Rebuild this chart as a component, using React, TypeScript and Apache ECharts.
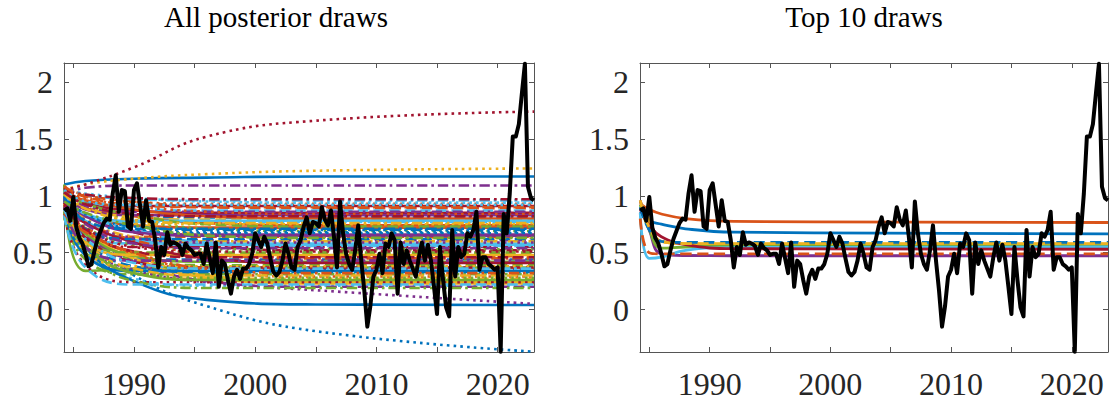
import React, { useEffect, useRef } from "react";
import * as echarts from "echarts";

// ---------- data ----------
const START_YEAR = 1984.25; // first quarter of the observed series
const QUARTER = 0.25;

// observed series (black line), quarterly 1984.25 .. 2023.0
const OBSERVED: number[] = [
  0.87, 0.89, 0.78,
  0.99, 0.72, 0.63, 0.58, // 1985
  0.49, 0.38, 0.40, 0.52, // 1986
  0.62, 0.69, 0.76, 0.80, // 1987
  0.79, 1.02, 1.18, 0.86, // 1988
  1.05, 1.04, 0.73, 0.71, // 1989
  1.05, 1.11, 0.92, 0.73, // 1990
  0.96, 0.78, 0.77, 0.61, // 1991
  0.37, 0.55, 0.48, 0.68, // 1992
  0.57, 0.59, 0.58, 0.56, // 1993
  0.48, 0.58, 0.54, 0.52, // 1994
  0.48, 0.49, 0.49, 0.40, // 1995
  0.58, 0.45, 0.32, 0.59, // 1996
  0.20, 0.43, 0.40, 0.26, // 1997
  0.14, 0.29, 0.35, 0.27, // 1998
  0.36, 0.36, 0.40, 0.49, // 1999
  0.67, 0.61, 0.55, 0.64, // 2000
  0.58, 0.45, 0.33, 0.30, // 2001
  0.33, 0.43, 0.58, 0.49, // 2002
  0.37, 0.35, 0.55, 0.61, // 2003
  0.73, 0.81, 0.67, 0.77, // 2004
  0.76, 0.73, 0.90, 0.79, // 2005
  0.74, 0.87, 0.64, 0.37, // 2006
  0.95, 0.67, 0.49, 0.40, // 2007
  0.35, 0.52, 0.74, 0.43, // 2008
  0.17, -0.15, 0.03, 0.29, // 2009
  0.35, 0.49, 0.32, 0.58, // 2010
  0.55, 0.67, 0.61, 0.14, // 2011
  0.59, 0.40, 0.52, 0.43, // 2012
  0.36, 0.29, 0.46, 0.59, // 2013
  0.43, 0.57, 0.43, 0.20, // 2014
  -0.04, 0.55, 0.26, 0.02, // 2015
  -0.06, 0.70, 0.29, 0.55, // 2016
  0.46, 0.49, 0.67, 0.64, // 2017
  0.70, 0.86, 0.35, 0.46, // 2018
  0.46, 0.40, 0.38, 0.35, // 2019
  0.37, -0.37, 0.84, 0.67, // 2020
  1.02, 1.52, 1.52, 1.63, // 2021
  1.90, 2.16, 1.08, 0.98, // 2022
  0.96, // 2023
];

// posterior draws (left panel): value at each key year
const KEY_YEARS_ALL = [1984.25, 1986, 1990, 1996, 2005, 2023];
const ALL_DRAWS: number[][] = [
  [1.10, 1.13, 1.15, 1.16, 1.17, 1.17],
  [0.95, 0.835, 0.74, 0.72, 0.72, 0.72],
  [0.90, 0.70, 0.48, 0.30, 0.25, 0.25],
  [1.00, 0.83, 0.69, 0.66, 0.66, 0.66],
  [1.10, 0.34, 0.36, 0.37, 0.37, 0.37],
  [0.92, 0.665, 0.58, 0.58, 0.58, 0.58],
  [1.02, 0.935, 0.87, 0.85, 0.85, 0.85],
  [0.85, 0.54, 0.44, 0.44, 0.44, 0.44],
  [1.05, 1.00, 0.95, 0.90, 0.89, 0.89],
  [0.80, 0.535, 0.32, 0.27, 0.27, 0.27],
  [0.95, 0.695, 0.61, 0.61, 0.61, 0.61],
  [0.88, 0.635, 0.44, 0.39, 0.39, 0.39],
  [1.00, 0.83, 0.77, 0.77, 0.77, 0.77],
  [0.98, 0.84, 0.68, 0.56, 0.52, 0.52],
  [1.00, 0.62, 0.30, 0.03, -0.19, -0.37],
  [1.08, 1.005, 0.945, 0.93, 0.93, 0.93],
  [1.05, 1.10, 1.15, 1.19, 1.22, 1.24],
  [0.86, 0.48, 0.35, 0.35, 0.35, 0.35],
  [0.97, 0.89, 0.79, 0.71, 0.69, 0.69],
  [0.84, 0.525, 0.27, 0.21, 0.21, 0.21],
  [1.05, 1.10, 1.25, 1.52, 1.66, 1.74],
  [1.04, 0.925, 0.83, 0.81, 0.81, 0.81],
  [0.90, 0.685, 0.51, 0.47, 0.47, 0.47],
  [1.00, 0.89, 0.76, 0.66, 0.63, 0.63],
  [1.02, 1.07, 1.09, 1.09, 1.09, 1.09],
  [0.82, 0.44, 0.31, 0.31, 0.31, 0.31],
  [1.06, 1.01, 0.97, 0.96, 0.96, 0.96],
  [0.93, 0.645, 0.55, 0.55, 0.55, 0.55],
  [1.00, 0.55, 0.25, 0.085, 0.045, 0.04],
  [0.96, 0.89, 0.82, 0.76, 0.74, 0.74],
  [0.87, 0.68, 0.45, 0.28, 0.23, 0.23],
  [1.03, 0.88, 0.83, 0.83, 0.83, 0.83],
  [0.91, 0.665, 0.47, 0.42, 0.42, 0.42],
  [0.99, 0.78, 0.61, 0.57, 0.57, 0.57],
  [1.07, 0.95, 0.91, 0.91, 0.91, 0.91],
  [0.85, 0.59, 0.38, 0.33, 0.33, 0.33],
  [0.94, 0.715, 0.64, 0.64, 0.64, 0.64],
  [1.01, 0.90, 0.81, 0.79, 0.79, 0.79],
  [0.83, 0.64, 0.42, 0.25, 0.20, 0.20],
  [0.96, 0.615, 0.50, 0.50, 0.50, 0.50],
  [1.04, 0.955, 0.89, 0.87, 0.87, 0.87],
  [0.89, 0.63, 0.42, 0.37, 0.37, 0.37],
  [0.97, 0.82, 0.70, 0.67, 0.67, 0.67],
  [0.86, 0.69, 0.49, 0.34, 0.29, 0.29],
  [1.02, 0.82, 0.75, 0.75, 0.75, 0.75],
  [0.95, 0.55, 0.35, 0.24, 0.17, 0.05],
  [0.92, 0.725, 0.57, 0.53, 0.53, 0.53],
  [1.05, 1.02, 0.98, 0.95, 0.94, 0.94],
  [0.84, 0.39, 0.24, 0.24, 0.24, 0.24],
  [0.98, 0.84, 0.73, 0.70, 0.70, 0.70],
  [0.90, 0.765, 0.61, 0.49, 0.45, 0.45],
  [1.00, 0.80, 0.64, 0.60, 0.60, 0.60],
  [1.06, 0.91, 0.86, 0.86, 0.86, 0.86],
  [0.81, 0.50, 0.25, 0.19, 0.19, 0.19],
  [0.95, 0.83, 0.70, 0.59, 0.56, 0.56],
  [1.05, 1.01, 0.98, 0.97, 0.97, 0.97],
  [0.88, 0.475, 0.34, 0.34, 0.34, 0.34],
  [1.03, 0.96, 0.88, 0.82, 0.80, 0.80],
  [0.93, 0.59, 0.48, 0.48, 0.48, 0.48],
  [0.99, 0.82, 0.68, 0.65, 0.65, 0.65],
  [0.85, 0.555, 0.32, 0.26, 0.26, 0.26],
  [1.01, 0.84, 0.78, 0.78, 0.78, 0.78],
  [0.91, 0.76, 0.59, 0.45, 0.41, 0.41],
  [0.97, 0.71, 0.62, 0.62, 0.62, 0.62],
  [1.08, 0.99, 0.92, 0.90, 0.90, 0.90],
  [0.87, 0.585, 0.36, 0.30, 0.30, 0.30],
  [0.96, 0.75, 0.58, 0.54, 0.54, 0.54],
  [1.02, 0.93, 0.83, 0.75, 0.73, 0.73],
  [0.83, 0.37, 0.22, 0.22, 0.22, 0.22],
  [0.94, 0.70, 0.51, 0.46, 0.46, 0.46],
  [1.00, 0.84, 0.71, 0.68, 0.68, 0.68],
  [1.04, 0.98, 0.91, 0.86, 0.84, 0.84],
  [0.89, 0.51, 0.38, 0.38, 0.38, 0.38],
  [0.98, 0.785, 0.63, 0.59, 0.59, 0.59],
  [0.86, 0.57, 0.34, 0.28, 0.28, 0.28],
  [1.05, 0.95, 0.92, 0.92, 0.92, 0.92],
  [0.92, 0.715, 0.55, 0.51, 0.51, 0.51],
  [0.99, 0.78, 0.71, 0.71, 0.71, 0.71],
  [0.84, 0.68, 0.50, 0.36, 0.32, 0.32],
  [1.01, 0.885, 0.785, 0.76, 0.76, 0.76],
  [0.90, 0.55, 0.43, 0.43, 0.43, 0.43],
  [0.95, 0.85, 0.74, 0.65, 0.63, 0.63],
  [0.88, 0.62, 0.41, 0.36, 0.36, 0.36],
  [1.03, 0.925, 0.84, 0.82, 0.82, 0.82],
];

// top 10 draws (right panel)
const KEY_YEARS_TOP = [1984.25, 1985, 1986, 1988, 1992, 2023];
const TOP_DRAWS: number[][] = [
  [0.86, 0.78, 0.75, 0.71, 0.68, 0.665],
  [0.93, 0.88, 0.84, 0.80, 0.775, 0.765],
  [0.95, 0.78, 0.60, 0.58, 0.575, 0.575],
  [0.96, 0.70, 0.49, 0.475, 0.473, 0.473],
  [0.92, 0.70, 0.54, 0.55, 0.56, 0.56],
  [0.85, 0.45, 0.46, 0.52, 0.545, 0.55],
  [0.88, 0.74, 0.64, 0.57, 0.535, 0.53],
  [0.90, 0.70, 0.60, 0.59, 0.59, 0.59],
  [0.80, 0.50, 0.49, 0.49, 0.49, 0.49],
  [0.96, 0.72, 0.60, 0.58, 0.58, 0.58],
];

const X_TICKS = [1985, 1990, 1995, 2000, 2005, 2010, 2015, 2020];
const X_LABELS = [1990, 2000, 2010, 2020];
const Y_TICKS = [0, 0.5, 1, 1.5, 2];
const TITLES = ["All posterior draws", "Top 10 draws"];

// ---------- style ----------
const COLORS = ["#0072BD", "#D95319", "#EDB120", "#7E2F8E", "#77AC30", "#4DBEEE", "#A2142F"];
const FONT = "'Liberation Serif', 'Times New Roman', serif";
const AXIS_COLOR = "#555555";
const LABEL_COLOR = "#262626";
const X_MIN = 1984.23;
const X_MAX = 2023.0;
const Y_MIN = -0.373;
const Y_MAX = 2.167;

const GRIDS = [
  { left: 64, top: 63, width: 470, height: 289 },
  { left: 640, top: 63, width: 468, height: 289 },
];

function dashFor(i: number, w: number): any {
  const s = Math.floor(i / 7) % 4;
  if (s === 0) return "solid";
  if (s === 1) return [4 * w, 2 * w];
  if (s === 2) return [w, 1.6 * w];
  return [4 * w, 1.5 * w, w, 1.5 * w];
}

export default function App() {
  const ref = useRef<HTMLDivElement>(null);
  useEffect(() => {
    document.body.style.margin = "0";
    const chart = echarts.init(ref.current!, null, { renderer: "svg" });

    const xAxes: any[] = [];
    const yAxes: any[] = [];
    GRIDS.forEach((_, g) => {
      const tickStyle = { color: AXIS_COLOR, width: 1 };
      const lineStyle = { color: AXIS_COLOR, width: 1 };
      xAxes.push({
        type: "value", gridIndex: g, position: "bottom", min: X_MIN, max: X_MAX,
        axisLine: { show: true, onZero: false, lineStyle },
        axisTick: { show: true, inside: true, length: 5, customValues: X_TICKS, lineStyle: tickStyle },
        axisLabel: {
          show: true, customValues: X_LABELS, fontFamily: FONT, fontSize: 32, color: LABEL_COLOR,
          margin: 16, formatter: (v: number) => String(Math.round(v)),
        },
        splitLine: { show: false },
      });
      xAxes.push({
        type: "value", gridIndex: g, position: "top", min: X_MIN, max: X_MAX,
        axisLine: { show: true, onZero: false, lineStyle },
        axisTick: { show: true, inside: true, length: 5, customValues: X_TICKS, lineStyle: tickStyle },
        axisLabel: { show: false },
        splitLine: { show: false },
      });
      yAxes.push({
        type: "value", gridIndex: g, position: "left", min: Y_MIN, max: Y_MAX,
        axisLine: { show: true, onZero: false, lineStyle },
        axisTick: { show: true, inside: true, length: 5, customValues: Y_TICKS, lineStyle: tickStyle },
        axisLabel: {
          show: true, customValues: Y_TICKS, fontFamily: FONT, fontSize: 32, color: LABEL_COLOR,
          margin: 11, formatter: (v: number) => String(v),
        },
        splitLine: { show: false },
      });
      yAxes.push({
        type: "value", gridIndex: g, position: "right", min: Y_MIN, max: Y_MAX,
        axisLine: { show: true, onZero: false, lineStyle },
        axisTick: { show: true, inside: true, length: 5, customValues: Y_TICKS, lineStyle: tickStyle },
        axisLabel: { show: false },
        splitLine: { show: false },
      });
    });

    const series: any[] = [];
    ALL_DRAWS.forEach((row, i) => {
      series.push({
        type: "line", xAxisIndex: 0, yAxisIndex: 0, showSymbol: false, silent: true,
        smooth: 0.45,
        lineStyle: { color: COLORS[i % 7], width: 2.6, type: dashFor(i, 2.6) },
        data: row.map((v, k) => [KEY_YEARS_ALL[k], v]),
      });
    });
    TOP_DRAWS.forEach((row, i) => {
      series.push({
        type: "line", xAxisIndex: 2, yAxisIndex: 2, showSymbol: false, silent: true,
        smooth: 0.45,
        lineStyle: { color: COLORS[i % 7], width: 2.8, type: dashFor(i, 2.8) },
        data: row.map((v, k) => [KEY_YEARS_TOP[k], v]),
      });
    });
    const observed = OBSERVED.map((v, k) => [START_YEAR + k * QUARTER, v]);
    [0, 2].forEach((ax) => {
      series.push({
        type: "line", xAxisIndex: ax, yAxisIndex: ax, showSymbol: false, silent: true,
        lineStyle: { color: "#000000", width: 4, join: "round" },
        data: observed,
      });
    });

    chart.setOption({
      animation: false,
      backgroundColor: "#ffffff",
      grid: GRIDS.map((g) => ({ ...g, containLabel: false, outerBoundsMode: "none" })),
      xAxis: xAxes,
      yAxis: yAxes,
      series,
      graphic: [
        {
          type: "text", x: 276, y: 17,
          style: { text: TITLES[0], font: `29px ${FONT}`, fill: "#000000", align: "center", verticalAlign: "middle" },
        },
        {
          type: "text", x: 864, y: 17,
          style: { text: TITLES[1], font: `29px ${FONT}`, fill: "#000000", align: "center", verticalAlign: "middle" },
        },
      ],
    });
    return () => chart.dispose();
  }, []);
  return <div ref={ref} style={{ width: 1113, height: 403 }} />;
}
